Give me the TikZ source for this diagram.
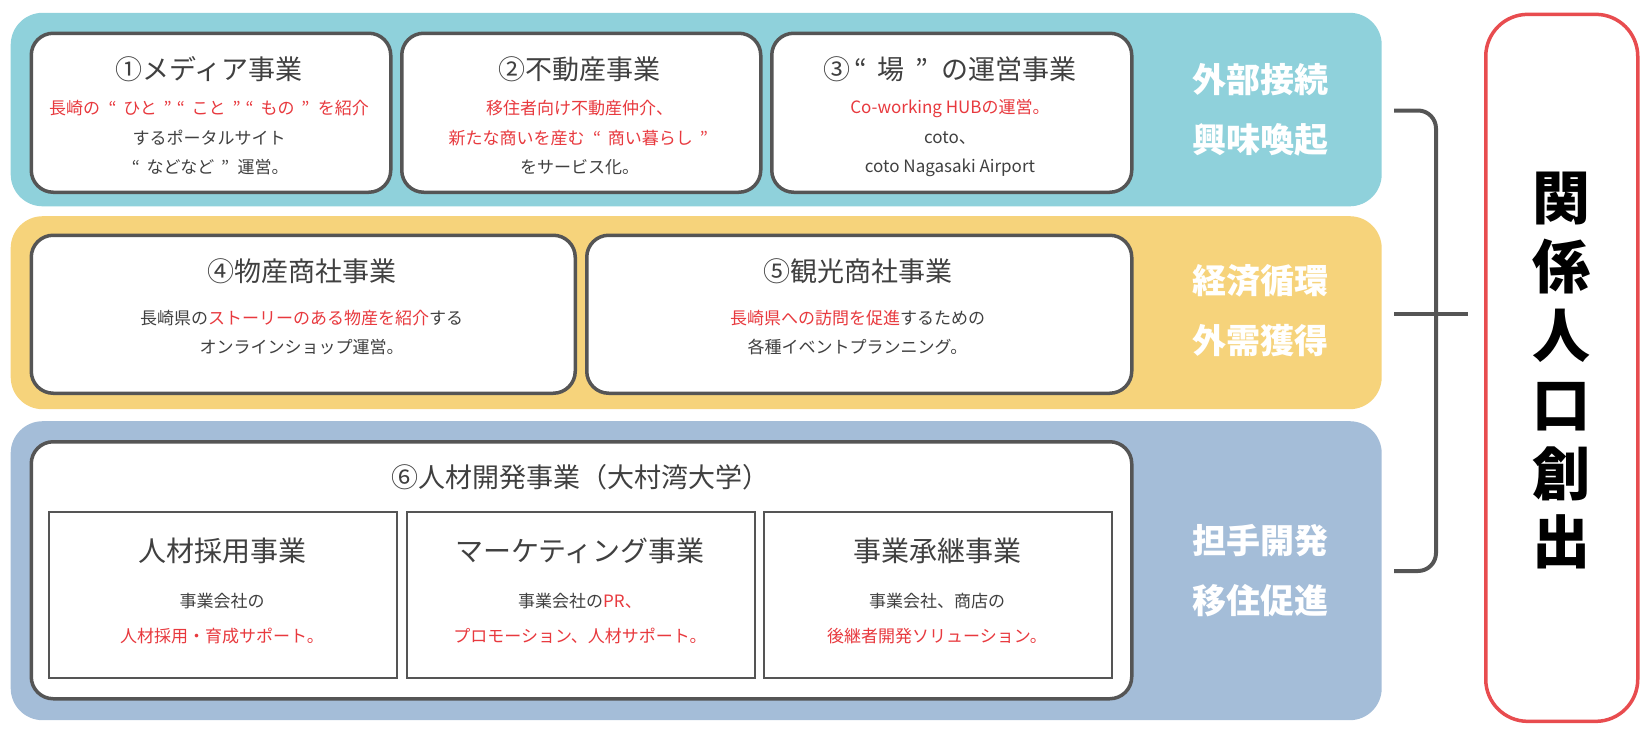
\documentclass[tikz,border=0pt]{standalone}
\usepackage{fontspec}
\setmainfont{Noto Sans CJK JP}
\definecolor{teal1}{HTML}{8FD1DB}
\definecolor{yel1}{HTML}{F6D37B}
\definecolor{blu1}{HTML}{A4BDD8}
\definecolor{bord}{HTML}{555555}
\definecolor{txt}{HTML}{404040}
\definecolor{redt}{HTML}{E8393E}
\definecolor{redb}{HTML}{E84C4F}
\newcommand{\rt}[1]{\textcolor{redt}{#1}}
\newcommand{\oq}{\hspace{0.5em}“\hspace{0.4em}}
\newcommand{\cq}{\hspace{0.4em}”\hspace{0.5em}}
\newcommand{\oqs}{\hspace{0.15em}“\hspace{0.4em}}
\newcommand{\cqs}{\hspace{0.4em}”\hspace{0.15em}}
\begin{document}
\begin{tikzpicture}[x=1pt,y=-1pt,
 band/.style={fill=#1, draw=none, rounded corners=32pt, anchor=north west, inner sep=0pt},
 card/.style={fill=white, draw=bord, line width=3.5pt, rounded corners=22pt, anchor=north west, inner sep=0pt},
 subbox/.style={fill=white, draw=bord, line width=2pt, anchor=north west, inner sep=0pt},
 ttl/.style={text=txt, inner sep=0pt, font=\fontsize{27pt}{30pt}\selectfont},
 subttl/.style={text=txt, inner sep=0pt, font=\fontsize{28pt}{30pt}\selectfont},
 body/.style={text=txt, align=center, inner sep=0pt, font=\fontsize{17pt}{29.5pt}\selectfont},
 subbody/.style={text=txt, align=center, inner sep=0pt, font=\fontsize{17pt}{35pt}\selectfont},
 lab/.style={text=white, align=center, inner sep=0pt, font=\bfseries\fontsize{34pt}{60pt}\selectfont},
 brk/.style={draw=bord, line width=4pt, rounded corners=18pt},
]
\useasboundingbox (0,0) rectangle (1650,734);
% bands
\node[band=teal1, minimum width=1371pt, minimum height=193.5pt] (b1) at (10.5,12.6) {};
\node[band=yel1, minimum width=1371pt, minimum height=193pt] (b2) at (10.5,216) {};
\node[band=blu1, minimum width=1371pt, minimum height=299pt] (b3) at (10.5,421) {};
% cards
\node[card, minimum width=359.5pt, minimum height=159pt] (c1) at (29.5,31.5) {};
\node[card, minimum width=359pt, minimum height=159pt] (c2) at (400,31.5) {};
\node[card, minimum width=360pt, minimum height=159pt] (c3) at (770,31.5) {};
\node[card, minimum width=544pt, minimum height=158pt] (c4) at (29.5,233.5) {};
\node[card, minimum width=545pt, minimum height=158pt] (c5) at (585,233.5) {};
\node[card, minimum width=1100.5pt, minimum height=257pt] (c6) at (29.5,440) {};
\node[subbox, minimum width=347.5pt, minimum height=166pt] (s1) at (48,511) {};
\node[subbox, minimum width=347.5pt, minimum height=166pt] (s2) at (406,511) {};
\node[subbox, minimum width=348pt, minimum height=166pt] (s3) at (763,511) {};
% texts row 1
\node[ttl] (t1) at (209,69.5) {①メディア事業};
\node[body] (d1) at (209,138) {\rt{長崎の{\oq}ひと{\cqs}{\oqs}こと{\cqs}{\oqs}もの{\cq}を紹介}\\するポータルサイト\\{\oqs}などなど{\cq}運営。};
\node[ttl] (t2) at (579.5,69.5) {②不動産事業};
\node[body] (d2) at (579.5,138) {\rt{移住者向け不動産仲介、}\\\rt{新たな商いを産む{\oq}商い暮らし{\cqs}}\\をサービス化。};
\node[ttl] (t3) at (950,69.5) {③{\oqs}場{\cq}の運営事業};
\node[body] (d3) at (950,138) {\rt{Co-working HUBの運営。}\\coto、\\coto Nagasaki Airport};
% row 2
\node[ttl] (t4) at (301.5,271.5) {④物産商社事業};
\node[body] (d4) at (301.5,332.5) {長崎県の\rt{ストーリーのある物産を紹介}する\\オンラインショップ運営。};
\node[ttl] (t5) at (857.5,271.5) {⑤観光商社事業};
\node[body] (d5) at (857.5,332.5) {\rt{長崎県への訪問を促進}するための\\各種イベントプランニング。};
% row 3
\node[ttl] (t6) at (580,477) {⑥人材開発事業（大村湾大学）};
\node[subttl] (st1) at (222,551) {人材採用事業};
\node[subbody] (sd1) at (222,618.5) {事業会社の\\\rt{人材採用・育成サポート。}};
\node[subttl] (st2) at (580,551) {マーケティング事業};
\node[subbody] (sd2) at (580,618.5) {事業会社の\rt{PR、}\\\rt{プロモーション、人材サポート。}};
\node[subttl] (st3) at (937,551) {事業承継事業};
\node[subbody] (sd3) at (937,618.5) {事業会社、商店の\\\rt{後継者開発ソリューション。}};
% right labels
\node[lab] (l1) at (1260,109.5) {外部接続\\興味喚起};
\node[lab] (l2) at (1260,311) {経済循環\\外需獲得};
\node[lab] (l3) at (1260,570.5) {担手開発\\移住促進};
% bracket
\coordinate (bt) at (1394,110.5);
\coordinate (bc) at (1436,571);
\coordinate (bb) at (1394,571);
\coordinate (bm) at (1394,313.6);
\coordinate (be) at (1468,313.6);
\draw[brk] (bt) -| (bc) -- (bb);
\draw[draw=bord, line width=4pt] (bm) -- (be);
% result box
\node[draw=redb, fill=white, line width=3.5pt, rounded corners=42pt, minimum width=152pt, minimum height=707pt, anchor=north west] (rb) at (1484,12.6) {};
\node[align=center, inner sep=0pt, font=\bfseries\fontsize{58pt}{68.8pt}\selectfont] (rt) at ([yshift=-3pt]rb.center) {関\\係\\人\\口\\創\\出};
\end{tikzpicture}
\end{document}
